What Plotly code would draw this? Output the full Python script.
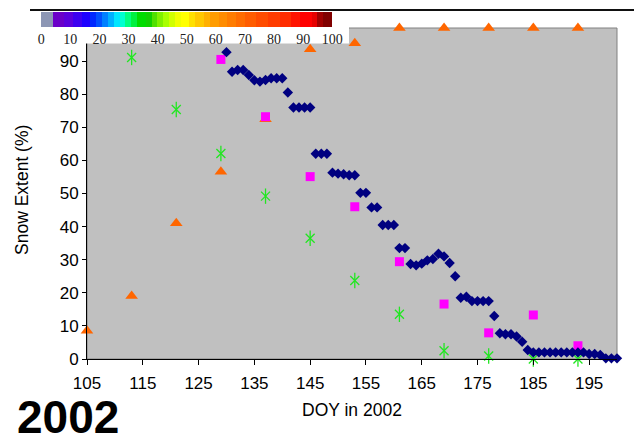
import plotly.graph_objects as go

# Daily snow extent (%), DOY 130-200
daily_doy = list(range(130, 201))
daily_extent = [
    92.7, 86.8, 87.3, 87.3, 85.8, 84.2, 83.8, 84.3, 84.8, 84.8,   # 130-139
    84.8, 80.5, 76.0, 76.0, 76.0, 76.0, 62.0, 62.0, 62.0, 56.3,   # 140-149
    56.0, 55.8, 55.5, 55.5, 50.2, 50.2, 45.8, 45.8, 40.5, 40.5,   # 150-159
    40.5, 33.5, 33.5, 28.7, 28.3, 28.8, 29.8, 30.2, 31.8, 31.0,   # 160-169
    29.0, 25.0, 18.5, 18.8, 17.5, 17.5, 17.5, 17.5, 13.0, 7.8,    # 170-179
    7.5, 7.5, 6.8, 5.2, 2.7, 2.0, 2.0, 2.0, 2.0, 2.0,             # 180-189
    2.0, 2.0, 2.0, 2.0, 2.0, 1.5, 1.5, 1.2, 0.2, 0.2,             # 190-199
    0.2,                                                          # 200
]

# 8-day composites
tri_doy = [105, 113, 121, 129, 137, 145, 153, 161, 169, 177, 185, 193]
tri_extent = [8.5, 19.0, 41.0, 56.6, 72.4, 93.6, 95.4, 100, 100, 100, 100, 100]

sq_doy = [129, 137, 145, 153, 161, 169, 177, 185, 193]
sq_extent = [90.5, 73.2, 55.1, 46.0, 29.4, 16.6, 7.9, 13.3, 4.0]

star_doy = [113, 121, 129, 137, 145, 153, 161, 169, 177, 185, 193]
star_extent = [91.1, 75.4, 62.1, 49.2, 36.5, 23.7, 13.5, 2.5, 0.9, 0.0, 0.0]

x_ticks = list(range(105, 200, 10))
y_ticks = list(range(0, 100, 10))
scale_ticks = list(range(0, 101, 10))

# Stepped colour key (start value, colour)
key_bands = [
    (0, "#8C96B4"), (4, "#6A00C8"), (8, "#5A00DC"), (11, "#3C00F0"), (14, "#1E00FF"),
    (17, "#0028FF"), (19, "#0050FF"), (21, "#0080FF"), (23, "#00B0FF"), (25, "#00E6FF"),
    (27, "#00FFD0"), (29, "#00FF80"), (31, "#00F040"), (33, "#00DC00"), (36, "#10D000"),
    (38, "#50E000"), (40, "#80F000"), (42, "#A8FF00"), (44, "#D0FF00"), (46, "#F0FF00"),
    (48, "#FFFF00"), (51, "#FFE000"), (53, "#FFC800"), (56, "#FFB000"), (58, "#FF9C00"),
    (61, "#FF8C00"), (64, "#FF7C00"), (67, "#FF6C00"), (70, "#FF5C00"), (74, "#FF4C00"),
    (78, "#FF3C00"), (82, "#FF2C00"), (86, "#FF1400"), (89, "#FF0000"), (93, "#E60000"),
    (95, "#A00000"), (97, "#800000"),
]
colorscale = []
for i, (start, col) in enumerate(key_bands):
    end = key_bands[i + 1][0] if i + 1 < len(key_bands) else 100
    colorscale.append([start / 100, col])
    colorscale.append([end / 100, col])

W, H = 634, 434
L, R, T, B = 87, 17, 28, 75
pw, ph = W - L - R, H - T - B


def px_x(p):
    return (p - L) / pw


def px_y(p):
    return (H - B - p) / ph


fig = go.Figure()

fig.add_trace(go.Scatter(
    x=tri_doy, y=tri_extent, mode="markers", cliponaxis=False,
    marker=dict(symbol="triangle-up", size=11, color="#FF6600", line=dict(width=0)),
))
fig.add_trace(go.Scatter(
    x=star_doy, y=star_extent, mode="markers", cliponaxis=False,
    marker=dict(symbol="x-thin-open", size=9, color="#22E622",
                line=dict(width=1.3, color="#22E622")),
))
fig.add_trace(go.Scatter(
    x=star_doy, y=star_extent, mode="markers", cliponaxis=False,
    marker=dict(symbol="line-ns-open", size=11, color="#22E622",
                line=dict(width=1.3, color="#22E622")),
))
fig.add_trace(go.Scatter(
    x=sq_doy, y=sq_extent, mode="markers", cliponaxis=False,
    marker=dict(symbol="square", size=9, color="#FF00FF", line=dict(width=0)),
))
fig.add_trace(go.Scatter(
    x=daily_doy, y=daily_extent, mode="markers", cliponaxis=False,
    marker=dict(symbol="diamond", size=8, color="#000080", line=dict(width=0)),
))

# Colour key
fig.add_trace(go.Scatter(
    x=[None], y=[None], mode="markers", hoverinfo="skip",
    marker=dict(
        color=[0], cmin=0, cmax=100, colorscale=colorscale, showscale=True,
        colorbar=dict(
            orientation="h", xref="container", yref="container",
            x=35 / W, xanchor="left", y=1 - 11.5 / H, yanchor="top",
            len=315, lenmode="pixels", thickness=15, thicknessmode="pixels",
            xpad=12, ypad=0, outlinewidth=0, bgcolor="rgba(0,0,0,0)",
            tickmode="array", tickvals=scale_ticks, ticks="", ticklen=0,
            tickfont=dict(family="Liberation Serif", size=14, color="#222222"),
        ),
    ),
))

axis_font = dict(family="Liberation Sans, Arial", size=17, color="#000000")
title_font = dict(family="Liberation Sans, Arial", size=17.5, color="#000000")

fig.update_layout(
    width=W, height=H,
    margin=dict(l=L, r=R, t=T, b=B, autoexpand=False),
    paper_bgcolor="white", plot_bgcolor="#C0C0C0",
    showlegend=False,
    xaxis=dict(
        range=[105, 200], tickmode="array", tickvals=x_ticks,
        showgrid=False, zeroline=False, showline=True, linecolor="#000000", linewidth=1,
        ticks="outside", ticklen=5, tickcolor="#000000", tickfont=axis_font,
        ticklabelstandoff=4,
    ),
    yaxis=dict(
        range=[0, 100], tickmode="array", tickvals=y_ticks,
        showgrid=False, zeroline=False, showline=True, linecolor="#000000", linewidth=1,
        ticks="outside", ticklen=4, tickcolor="#000000", tickfont=axis_font,
    ),
    shapes=[
        # plot frame
        dict(type="rect", xref="paper", yref="paper", x0=0, x1=1, y0=0, y1=1,
             line=dict(color="#808080", width=1), fillcolor="rgba(0,0,0,0)", layer="below"),
        # white panel behind the colour key
        dict(type="rect", xref="paper", yref="paper",
             x0=px_x(30), x1=px_x(349), y0=px_y(43.5), y1=px_y(10),
             line=dict(width=0), fillcolor="white", layer="above"),
        # rule along the top of the slide
        dict(type="line", xref="paper", yref="paper",
             x0=px_x(30), x1=px_x(W), y0=px_y(10), y1=px_y(10),
             line=dict(color="#111111", width=2), layer="above"),
    ],
    annotations=[
        dict(text="DOY in 2002", xref="paper", yref="paper",
             x=px_x(352), y=px_y(410), xanchor="center", yanchor="middle",
             showarrow=False, font=title_font),
        dict(text="Snow Extent (%)", xref="paper", yref="paper",
             x=px_x(22), y=px_y(190), xanchor="center", yanchor="middle",
             textangle=-90, showarrow=False, font=title_font),
        dict(text="<b>2002</b>", xref="paper", yref="paper",
             x=px_x(15), y=px_y(417), xanchor="left", yanchor="middle",
             showarrow=False, font=dict(family="Liberation Sans, Arial", size=46, color="#000000")),
    ],
)

fig.write_html("out.html")
